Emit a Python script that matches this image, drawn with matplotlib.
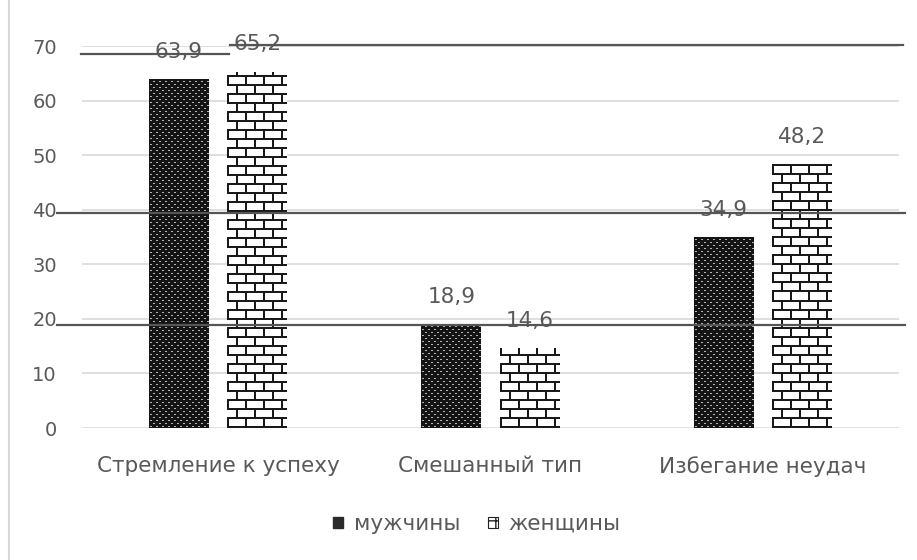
import numpy as np
import matplotlib
matplotlib.use("Agg")
import matplotlib.pyplot as plt
from matplotlib.patches import Patch
from matplotlib.lines import Line2D

categories = ["Стремление к успеху", "Смешанный тип", "Избегание неудач"]
men = [63.9, 18.9, 34.9]
women = [65.2, 14.6, 48.2]
series_names = ["мужчины", "женщины"]
yticks = [0, 10, 20, 30, 40, 50, 60, 70]

TEXT = "#595959"
GRID = "#d9d9d9"
FS = 15.5
plt.rcParams["font.family"] = ["DejaVu Sans"]


def dots_texture(h, w):
    # dark fill with staggered light dots
    img = np.full((h, w), 0.08)
    for r in range(h):
        shift = 3 if (r // 3) % 2 else 0
        if r % 3 == 1:
            for c in range(w):
                if (c + shift) % 6 in (1, 2):
                    img[r, c] = 0.7
    return img


def brick_texture(h, w, bh=9, bw=18):
    img = np.ones((h, w))
    for r in range(h):
        row = r // bh
        if r % bh in (0, 1):
            img[r, :] = 0.1
            continue
        shift = (bw // 2) if row % 2 else 0
        for c in range(w):
            if (c + shift) % bw in (0, 1):
                img[r, c] = 0.1
    return img


fig = plt.figure(figsize=(9.17, 5.6), dpi=100)
ax = fig.add_axes([82 / 917, 1 - 428 / 560, 817 / 917, (428 - 46) / 560])

x = np.arange(len(categories))
w = 0.22
off = 0.144
bars_m = ax.bar(x - off, men, w, facecolor="none", edgecolor="none", zorder=3)
bars_w = ax.bar(x + off, women, w, facecolor="none", edgecolor="none", zorder=3)

ax.set_xlim(-0.5, len(categories) - 0.5)
ax.set_ylim(0, 70)

# fill every bar with a pixel texture sized to its on-screen box
for bars, make in ((bars_m, dots_texture), (bars_w, brick_texture)):
    for rect in bars:
        x0, y0 = rect.get_x(), rect.get_y()
        x1, y1 = x0 + rect.get_width(), y0 + rect.get_height()
        (px0, py0), (px1, py1) = ax.transData.transform([(x0, y0), (x1, y1)])
        tex = make(max(int(round(py1 - py0)), 1), max(int(round(px1 - px0)), 1))
        ax.imshow(tex, cmap="gray", vmin=0, vmax=1, origin="lower",
                  extent=(x0, x1, y0, y1), aspect="auto",
                  interpolation="nearest", zorder=3)

ax.set_xlim(-0.5, len(categories) - 0.5)
ax.set_ylim(0, 70)

for bars, vals in ((bars_m, men), (bars_w, women)):
    for rect, v in zip(bars, vals):
        ax.annotate(f"{v:.1f}".replace(".", ","),
                    (rect.get_x() + rect.get_width() / 2, v),
                    xytext=(0, 20), textcoords="offset points",
                    ha="center", va="center", fontsize=FS, color=TEXT, zorder=4)

ax.set_yticks(yticks)
ax.set_xticks(x)
ax.set_xticklabels(categories)
ax.tick_params(axis="y", length=0, pad=18, labelsize=14, labelcolor=TEXT)
ax.tick_params(axis="x", length=0, pad=20, labelsize=FS, labelcolor=TEXT)
ax.yaxis.grid(True, color=GRID, linewidth=1.2, zorder=0)
ax.set_axisbelow(True)
for s in ax.spines.values():
    s.set_visible(False)

handles = [Patch(facecolor="#2a2a2a", edgecolor="#2a2a2a"),
           Patch(facecolor="white", edgecolor="#222222", hatch="++", linewidth=0.8)]
fig.legend(handles, series_names, loc="center", bbox_to_anchor=(477 / 917, 1 - 524 / 560),
           ncol=2, frameon=False, fontsize=FS, labelcolor=TEXT,
           handlelength=0.45, handleheight=0.45, handletextpad=0.5, columnspacing=1.3)


def fig_line(xa, xb, y, **kw):
    fig.add_artist(Line2D([xa / 917, xb / 917], [1 - y / 560, 1 - y / 560],
                          transform=fig.transFigure, **kw))


# page frame and ruling lines that cross the chart
fig.add_artist(Line2D([9 / 917, 9 / 917], [0, 1], transform=fig.transFigure,
                      color=GRID, linewidth=1.5))
rule = dict(color="#555555", linewidth=1.6, zorder=10)
fig_line(81, 229, 54, **rule)
fig_line(230, 903, 45, **rule)
fig_line(57, 905, 212.7, **rule)
fig_line(57, 905, 325, **rule)

fig.savefig("out.png", dpi=100)
